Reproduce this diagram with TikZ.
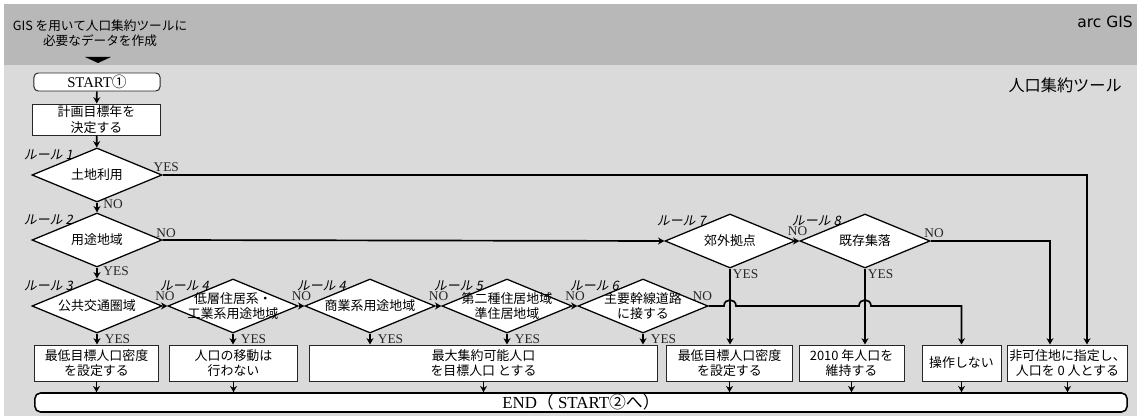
\documentclass[tikz,border=0pt]{standalone}
\usepackage{fontspec}
\setmainfont{Liberation Serif}
\newfontfamily\jpfont{Noto Sans CJK JP}
\newfontfamily\jpslant[FakeSlant=0.2]{Noto Sans CJK JP}
\newfontfamily\toolfont{DejaVu Sans}
\usepackage{tikz}
\usetikzlibrary{arrows.meta,positioning,shapes.geometric}
\definecolor{bandgray}{RGB}{183,184,183}
\definecolor{panelgray}{RGB}{217,218,217}

\begin{document}
\begin{tikzpicture}[
    x=0.025cm, y=-0.025cm,
    rulebox/.style={
        draw=black!85,
        fill=white,
        line width=0.7pt,
        minimum height=0.9cm,
        inner sep=1pt,
        align=center,
        font=\jpfont\fontsize{9.2}{11}\selectfont,
    },
    decision/.style={
        diamond,
        draw=black,
        fill=white,
        line width=0.9pt,
        minimum width=3.25cm,
        minimum height=1.35cm,
        inner sep=0pt,
    },
    dtext/.style={align=center, inner sep=0pt, font=\jpfont\fontsize{9.2}{11}\selectfont},
    rulelabel/.style={anchor=east, inner sep=0pt, font=\jpslant\fontsize{9.2}{11}\selectfont},
    yn/.style={inner sep=0pt, font=\fontsize{9.5}{10}\selectfont, text=black!85},
    flow/.style={
        -{Stealth[length=4.5pt,width=5pt]},
        line width=1.2pt,
        color=black,
    },
]
\fill[white] (0,0) rectangle (1140,419);
\fill[panelgray] (4,4) rectangle (1137,416);
\fill[bandgray] (4,4) rectangle (1137,65);
\useasboundingbox (0,0) rectangle (1140,419);

\node[align=center, inner sep=0pt, font=\jpfont\fontsize{9}{11}\selectfont] (intro) at (100,33) {GIS を用いて人口集約ツールに\\必要なデータを作成};
\fill[black] (85,57) -- (111,57) -- (98,63) -- cycle;
\node[anchor=east, inner sep=0pt, font=\toolfont\fontsize{11}{13}\selectfont] (arcgis) at (1133,22) {arc GIS};
\node[anchor=east, inner sep=0pt, font=\jpfont\fontsize{11.5}{13}\selectfont] (tool) at (1122,85) {人口集約ツール};

\node[draw=black!85, fill=white, rounded corners=3pt, line width=0.7pt, minimum width=3.15cm, minimum height=0.45cm, inner sep=0pt, font=\fontsize{10.5}{12}\selectfont] (start) at (97,82) {START{\jpfont ①}};
\node[rulebox, minimum width=3.175cm, minimum height=0.775cm] (plan) at (96.5,119.5) {計画目標年を\\決定する};

% decisions
\node[decision, label={[dtext]center:土地利用}] (landuse) at (97,175) {};
\node[decision, label={[dtext]center:用途地域}] (zoning) at (97,240) {};
\node[decision, label={[dtext]center:公共交通圏域}] (transit) at (97,306) {};
\node[decision, label={[dtext]center:{低層住居系・\\工業系用途地域}}] (lowres) at (233,306) {};
\node[decision, label={[dtext]center:商業系用途地域}] (commerce) at (370,306) {};
\node[decision, label={[dtext]center:{第二種住居地域\\準住居地域}}] (res2) at (507,306) {};
\node[decision, label={[dtext]center:{主要幹線道路\\に接する}}] (road) at (643,306) {};
\node[decision, label={[dtext]center:郊外拠点}] (suburb) at (730,241) {};
\node[decision, label={[dtext]center:既存集落}] (village) at (865,241) {};

\node[rulelabel] (r1) at ([shift={(-24,7)}]landuse.north) {ルール 1};
\node[rulelabel] (r2) at ([shift={(-24,7)}]zoning.north) {ルール 2};
\node[rulelabel] (r3) at ([shift={(-24,7)}]transit.north) {ルール 3};
\node[rulelabel] (r4) at ([shift={(-24,7)}]lowres.north) {ルール 4};
\node[rulelabel] (r5) at ([shift={(-24,7)}]commerce.north) {ルール 4};
\node[rulelabel] (r6) at ([shift={(-24,7)}]res2.north) {ルール 5};
\node[rulelabel] (r7) at ([shift={(-24,7)}]road.north) {ルール 6};
\node[rulelabel] (r8) at ([shift={(-24,7)}]suburb.north) {ルール 7};
\node[rulelabel] (r9) at ([shift={(-24,7)}]village.north) {ルール 8};

% results
\node[rulebox, minimum width=3.075cm] (minA) at (96.5,363) {最低目標人口密度\\を設定する};
\node[rulebox, minimum width=3.175cm] (keep) at (233.5,363) {人口の移動は\\行わない};
\node[rulebox, minimum width=8.675cm] (maxpop) at (483.5,363) {最大集約可能人口\\を目標人口 とする};
\node[rulebox, minimum width=3.125cm] (minB) at (729.5,363) {最低目標人口密度\\を設定する};
\node[rulebox, minimum width=2.625cm] (hold) at (851.5,363) {2010 年人口を\\維持する};
\node[rulebox, minimum width=1.975cm] (noop) at (961.5,363) {操作しない};
\node[rulebox, minimum width=2.975cm] (nohab) at (1067.5,363) {非可住地に指定し、\\人口を 0 人とする};

\node[draw=black, fill=white, rounded corners=4pt, line width=1.1pt, minimum width=27.3cm, minimum height=0.475cm, inner sep=0pt, font=\fontsize{12}{13}\selectfont] (finish) at (581,402.5) {END{\jpfont （}\ START{\jpfont ②へ）}};

\coordinate (hopA) at (suburb.south |- road.east);
\coordinate (hopB) at (village.south |- road.east);

\draw[flow] (start) -- (plan);
\draw[flow] (plan) -- (landuse);
\draw[flow] (landuse) -- node[yn, right=4pt, pos=0.2]{NO} (zoning);
\draw[flow] (zoning) -- node[yn, right=4pt, pos=0.35]{YES} (transit);
\draw[flow] (landuse.east) -| node[yn, pos=0, anchor=south west, xshift=-7pt, yshift=2pt]{YES} ([shift={(19.5,0)}]nohab.north);
\draw[flow] (zoning.east) -- node[yn, pos=0, anchor=south west, xshift=-5pt, yshift=1pt]{NO} (suburb.west);

\draw[flow] (transit) -- node[yn, above=3pt]{NO} (lowres);
\draw[flow] (lowres) -- node[yn, above=3pt]{NO} (commerce);
\draw[flow] (commerce) -- node[yn, above=3pt]{NO} (res2);
\draw[flow] (res2) -- node[yn, above=3pt]{NO} (road);
\draw[flow] (road.east) -- node[yn, pos=0, anchor=south east, xshift=3pt, yshift=3pt]{NO} ([shift={(-6,0)}]hopA)
    .. controls ([shift={(-6,-8)}]hopA) and ([shift={(6,-8)}]hopA) .. ([shift={(6,0)}]hopA)
    -- ([shift={(-6,0)}]hopB)
    .. controls ([shift={(-6,-8)}]hopB) and ([shift={(6,-8)}]hopB) .. ([shift={(6,0)}]hopB)
    -| (noop.north);

\draw[flow] (transit.south) -- node[yn, right=5pt]{YES} (transit.south |- minA.north);
\draw[flow] (lowres.south) -- node[yn, right=5pt]{YES} (lowres.south |- keep.north);
\draw[flow] (commerce.south) -- node[yn, right=5pt]{YES} (commerce.south |- maxpop.north);
\draw[flow] (res2.south) -- node[yn, right=5pt]{YES} (res2.south |- maxpop.north);
\draw[flow] (road.south) -- node[yn, right=5pt]{YES} (road.south |- maxpop.north);

\draw[flow] (suburb) -- node[yn, above=3.5pt]{NO} (village);
\draw[flow] (suburb.south) -- node[yn, pos=0, anchor=north west, xshift=1.5pt]{YES} (suburb.south |- minB.north);
\draw[flow] (village.south) -- node[yn, pos=0, anchor=north west, xshift=1.5pt]{YES} (village.south |- hold.north);
\draw[flow] (village.east) -| node[yn, pos=0, anchor=south west, xshift=-5pt, yshift=2pt]{NO} ([shift={(-17.5,0)}]nohab.north);

\draw[flow] (minA) -- (minA |- finish.north);
\draw[flow] (keep) -- (keep |- finish.north);
\draw[flow] (maxpop) -- (maxpop |- finish.north);
\draw[flow] (minB) -- (minB |- finish.north);
\draw[flow] (hold) -- (hold |- finish.north);
\draw[flow] (noop) -- (noop |- finish.north);
\draw[flow] (nohab) -- (nohab |- finish.north);
\end{tikzpicture}
\end{document}
